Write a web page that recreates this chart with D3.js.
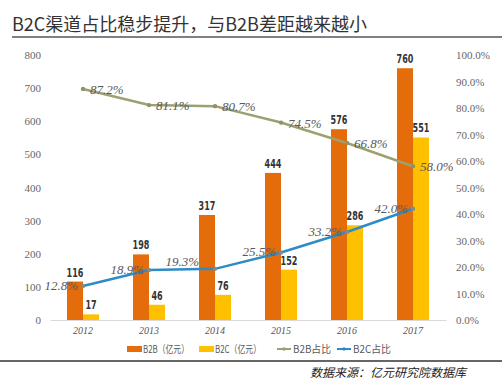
<!DOCTYPE html>
<html>
<head>
<meta charset="utf-8">
<script src="https://cdn.jsdelivr.net/npm/d3@7"></script>
<style>
  body { margin: 0; background: #fff; }
  svg { display: block; }
</style>
</head>
<body>
<div id="container"></div>
<script>
// data
let years = ["2012", "2013", "2014", "2015", "2016", "2017"];
let b2bValues = [116, 198, 317, 444, 576, 760];
let b2cValues = [17, 46, 76, 152, 286, 551];
let b2bShare = [0.872, 0.811, 0.807, 0.745, 0.668, 0.580];
let b2cShare = [0.128, 0.189, 0.193, 0.255, 0.332, 0.420];
let leftTicks = [0, 100, 200, 300, 400, 500, 600, 700, 800];
let rightTicks = [0, 0.1, 0.2, 0.3, 0.4, 0.5, 0.6, 0.7, 0.8, 0.9, 1.0];
let legendNames = ["B2B（亿元）", "B2C（亿元）", "B2B占比", "B2C占比"];

let width = 504, height = 382;
let orange = "#E46C0A", yellow = "#FFC000", olive = "#9EA070", blue = "#2E8BC6";
let serif = "'Liberation Serif', 'DejaVu Serif', serif";
let cjk = "'Noto Sans CJK SC', 'Noto Sans', sans-serif";

let svg = d3.select("#container")
    .append("svg")
    .attr("width", width)
    .attr("height", height);

// title + rule under it
svg.append("text")
    .attr("x", 12)
    .attr("y", 31)
    .attr("font-family", cjk)
    .attr("font-size", 18)
    .attr("fill", "#333")
    .text("B2C渠道占比稳步提升，与B2B差距越来越小");
svg.append("line")
    .attr("x1", 12).attr("x2", 502)
    .attr("y1", 37).attr("y2", 37)
    .attr("stroke", "#808080")
    .attr("stroke-width", 2);

let x = d3.scaleBand().domain(years).range([50, 446]);
let yL = d3.scaleLinear().domain([0, 800]).range([320, 55]);
let yR = d3.scaleLinear().domain([0, 1]).range([320, 55]);
let barW = 16;

// left axis
let leftAxis = svg.append("g")
    .attr("transform", "translate(44,0)")
    .call(d3.axisLeft(yL).tickValues(leftTicks).tickSize(0).tickPadding(3));
leftAxis.select(".domain").remove();
leftAxis.selectAll("text")
    .attr("font-family", serif)
    .attr("font-size", 11)
    .attr("fill", "#666");

// right axis
let rightAxis = svg.append("g")
    .attr("transform", "translate(453,0)")
    .call(d3.axisRight(yR).tickValues(rightTicks).tickFormat(d3.format(".1%")).tickSize(0).tickPadding(3));
rightAxis.select(".domain").remove();
rightAxis.selectAll("text")
    .attr("font-family", serif)
    .attr("font-size", 11)
    .attr("fill", "#666");

// x axis
let xAxis = svg.append("g")
    .attr("transform", "translate(0,320)")
    .call(d3.axisBottom(x).tickSize(0).tickPadding(7));
xAxis.select(".domain").attr("stroke", "#d9d9d9");
xAxis.selectAll("text")
    .attr("font-family", serif)
    .attr("font-style", "italic")
    .attr("font-size", 10)
    .attr("fill", "#555");

// bars
let center = d => x(d) + x.bandwidth() / 2;

svg.selectAll(".b2b")
    .data(b2bValues)
    .enter()
    .append("rect")
    .attr("x", (d, i) => center(years[i]) - barW)
    .attr("y", d => yL(d))
    .attr("width", barW)
    .attr("height", d => yL(0) - yL(d))
    .attr("fill", orange);

svg.selectAll(".b2c")
    .data(b2cValues)
    .enter()
    .append("rect")
    .attr("x", (d, i) => center(years[i]))
    .attr("y", d => yL(d))
    .attr("width", barW)
    .attr("height", d => yL(0) - yL(d))
    .attr("fill", yellow);

// bar value labels (narrow, impact-like)
function barLabels(vals, shift) {
    svg.selectAll(null)
        .data(vals)
        .enter()
        .append("text")
        .attr("x", (d, i) => center(years[i]) + shift)
        .attr("y", d => yL(d) - 5)
        .attr("text-anchor", "middle")
        .attr("font-family", "'DejaVu Sans Condensed', 'DejaVu Sans', sans-serif")
        .attr("font-weight", "bold")
        .attr("font-size", 13)
        .attr("textLength", d => String(d).length * 5.6)
        .attr("lengthAdjust", "spacingAndGlyphs")
        .attr("fill", "#333")
        .text(d => d);
}
barLabels(b2bValues, -barW / 2);
barLabels(b2cValues, barW / 2);

// share lines
let line = d3.line()
    .x((d, i) => center(years[i]))
    .y(d => yR(d));

function shareLine(vals, color, markColor) {
    svg.append("path")
        .datum(vals)
        .attr("d", line)
        .attr("fill", "none")
        .attr("stroke", color)
        .attr("stroke-width", 2.5);
    svg.selectAll(null)
        .data(vals)
        .enter()
        .append("circle")
        .attr("cx", (d, i) => center(years[i]))
        .attr("cy", d => yR(d))
        .attr("r", 2.2)
        .attr("fill", markColor);
}
shareLine(b2bShare, olive, "#8e9266");
shareLine(b2cShare, blue, "#7f8c8d");

// share labels
let pct = d3.format(".1%");
svg.selectAll(null)
    .data(b2bShare)
    .enter()
    .append("text")
    .attr("x", (d, i) => center(years[i]) + 7)
    .attr("y", d => yR(d) + 5)
    .attr("font-family", serif)
    .attr("font-style", "italic")
    .attr("font-size", 13)
    .attr("fill", "#595959")
    .text(d => pct(d));

svg.selectAll(null)
    .data(b2cShare)
    .enter()
    .append("text")
    .attr("x", (d, i) => center(years[i]) - (i == 2 ? 16 : 5))
    .attr("y", (d, i) => yR(d) + (i == 2 ? -3 : 4))
    .attr("text-anchor", "end")
    .attr("font-family", serif)
    .attr("font-style", "italic")
    .attr("font-size", 13)
    .attr("fill", "#595959")
    .text(d => pct(d));

// legend
let legendX = [127, 199, 277, 337];
let legendLen = [46, 46, 38, 38];
let legend = svg.selectAll(".legend")
    .data(legendNames)
    .enter()
    .append("g")
    .attr("transform", (d, i) => `translate(${legendX[i]},349)`);

legend.each(function (d, i) {
    let g = d3.select(this);
    if (i < 2) {
        g.append("rect")
            .attr("x", 0).attr("y", -3)
            .attr("width", 15).attr("height", 6)
            .attr("fill", i == 0 ? orange : yellow);
    } else {
        g.append("line")
            .attr("x1", 0).attr("x2", 14)
            .attr("y1", 0).attr("y2", 0)
            .attr("stroke", i == 2 ? olive : blue)
            .attr("stroke-width", 2);
        g.append("circle")
            .attr("cx", 7).attr("cy", 0).attr("r", 1.8)
            .attr("fill", i == 2 ? olive : blue);
    }
    g.append("text")
        .attr("x", 16)
        .attr("y", 4)
        .attr("font-family", cjk)
        .attr("font-size", 10.5)
        .attr("textLength", legendLen[i])
        .attr("lengthAdjust", "spacingAndGlyphs")
        .attr("fill", "#595959")
        .text(d);
});

// footer rule + source
svg.append("line")
    .attr("x1", 0).attr("x2", 502)
    .attr("y1", 361).attr("y2", 361)
    .attr("stroke", "#666")
    .attr("stroke-width", 2);
svg.append("text")
    .attr("x", 466)
    .attr("y", 377)
    .attr("text-anchor", "end")
    .attr("font-family", cjk)
    .attr("font-style", "italic")
    .attr("font-size", 12)
    .attr("fill", "#222")
    .text("数据来源：亿元研究院数据库");
</script>
</body>
</html>
